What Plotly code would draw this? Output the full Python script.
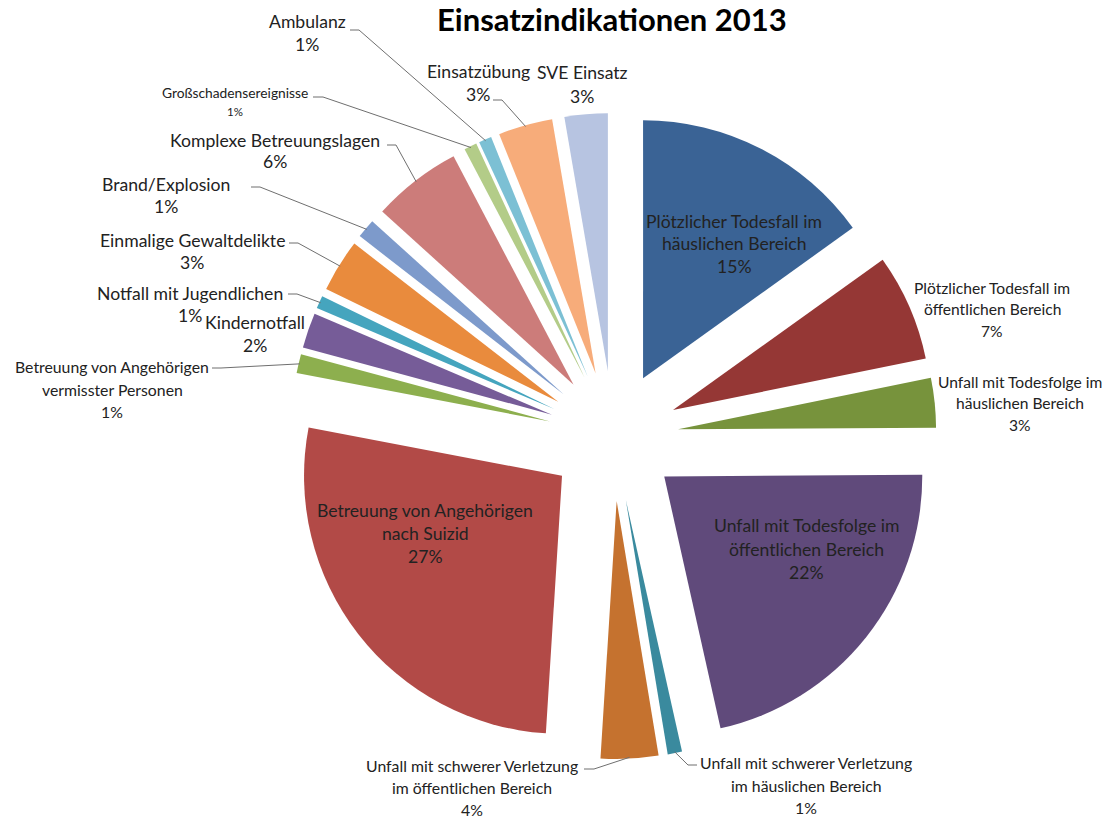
import math
import plotly.graph_objects as go

W, H = 1105, 818

# ---------------- data ----------------
categories = [
    "Plötzlicher Todesfall im häuslichen Bereich",
    "Plötzlicher Todesfall im öffentlichen Bereich",
    "Unfall mit Todesfolge im häuslichen Bereich",
    "Unfall mit Todesfolge im öffentlichen Bereich",
    "Unfall mit schwerer Verletzung im häuslichen Bereich",
    "Unfall mit schwerer Verletzung im öffentlichen Bereich",
    "Betreuung von Angehörigen nach Suizid",
    "Betreuung von Angehörigen vermisster Personen",
    "Kindernotfall",
    "Notfall mit Jugendlichen",
    "Einmalige Gewaltdelikte",
    "Brand/Explosion",
    "Komplexe Betreuungslagen",
    "Großschadensereignisse",
    "Ambulanz",
    "Einsatzübung",
    "SVE Einsatz",
]
values = [15.1, 6.7, 3.1, 21.6, 0.9, 3.6, 27.0, 1.2, 2.2, 0.8, 3.3, 1.2, 5.6, 0.8, 0.8, 3.4, 2.7]

# how each category label is broken into lines
label_lines = [
    ["Plötzlicher Todesfall im", "häuslichen Bereich"],
    ["Plötzlicher Todesfall im", "öffentlichen Bereich"],
    ["Unfall mit Todesfolge im", "häuslichen Bereich"],
    ["Unfall mit Todesfolge im", "öffentlichen Bereich"],
    ["Unfall mit schwerer Verletzung", "im häuslichen Bereich"],
    ["Unfall mit schwerer Verletzung", "im öffentlichen Bereich"],
    ["Betreuung von Angehörigen", "nach Suizid"],
    ["Betreuung von Angehörigen", "vermisster Personen"],
    ["Kindernotfall"],
    ["Notfall mit Jugendlichen"],
    ["Einmalige Gewaltdelikte"],
    ["Brand/Explosion"],
    ["Komplexe Betreuungslagen"],
    ["Großschadensereignisse"],
    ["Ambulanz"],
    ["Einsatzübung"],
    ["SVE Einsatz"],
]

colors = [
    "#3A6395", "#953735", "#77933C", "#604A7B", "#3A8A9E", "#C5722F",
    "#B24A47", "#8DAF4E", "#765C98", "#45A5BE", "#E98B3D", "#7D9ACB",
    "#CC7C7A", "#B3CC88", "#7CC0D4", "#F7AC7A", "#B7C4E1",
]

TITLE = "Einsatzindikationen 2013"

# ---------------- layout parameters (pixels) ----------------
CX, CY = 613.4, 436.0      # pie centre
R = 258.0                  # radius
PULL = 65.0 / 258.0        # explode distance as fraction of radius
FONT = "Lato"
TXT = "#222222"
LINE_COL = "#6f6f6f"

# label block centre (px), font size, line spacing
label_style = [
    (734, 244, 17.6, 22.5),
    (992, 309, 15.6, 21.5),
    (1020, 403, 15.6, 21.5),
    (806, 549, 17.6, 23.5),
    (806, 785, 15.8, 22.5),
    (472, 787, 15.8, 22.0),
    (425, 533, 17.6, 23.0),
    (112, 389, 15.8, 22.5),
    (255, 333.5, 17.6, 23.0),
    (190, 304, 17.6, 22.0),
    (192, 251, 17.6, 22.0),
    (166, 196, 17.6, 22.0),
    (275, 151, 17.6, 22.0),
    (235, 102, 13.8, 19.0),
    (307, 33, 17.6, 23.0),
    (478, 83.5, 17.6, 23.0),
    (582, 84.5, 17.6, 24.0),
]

# leader lines: (start px, elbow px) on the text side; None = no leader
leaders = [
    None, None, None, None,
    ((697, 765), (688, 765)),
    ((584, 769), (594, 769)),
    None,
    ((212, 368), (221, 368)),
    None,
    ((288, 294), (297, 294)),
    ((289, 243), (298, 243)),
    ((251, 187), (260, 187)),
    ((387, 145), (396, 145)),
    ((313, 97), (323, 97)),
    ((350, 30), (359, 30)),
    ((493, 100), (502, 100)),
    None,
]

# ---------------- figure ----------------
half = R * (1 + PULL)
dom_x = [(CX - half) / W, (CX + half) / W]
dom_y = [1 - (CY + half) / H, 1 - (CY - half) / H]

fig = go.Figure(go.Pie(
    labels=categories, values=values, sort=False, direction="clockwise", rotation=0,
    pull=[PULL] * len(values),
    marker=dict(colors=colors, line=dict(width=0)),
    textinfo="none", hoverinfo="label+percent", showlegend=False,
    domain=dict(x=dom_x, y=dom_y),
))

def px2paper(x, y):
    return x / W, 1 - y / H

total = sum(values)
annotations = []
shapes = []
cum = 0.0
for i, v in enumerate(values):
    frac_mid = (cum + v / 2) / total
    cum += v
    pct = f"{v / total * 100:.0f}%"
    lines = label_lines[i] + [pct]
    cx, cy, fs, sp = label_style[i]
    n = len(lines)
    for k, t in enumerate(lines):
        size = fs
        if i == 13 and k == n - 1:
            size = 11.5
        ly = cy + (k - (n - 1) / 2) * sp
        x, y = px2paper(cx, ly)
        annotations.append(dict(
            x=x, y=y, xref="paper", yref="paper", text=t, showarrow=False,
            xanchor="center", yanchor="middle",
            font=dict(family=FONT, size=size, color=TXT),
        ))
    if leaders[i] is not None:
        ang = 2 * math.pi * frac_mid
        L = R * PULL + R * 0.995
        ex = CX + L * math.sin(ang)
        ey = CY - L * math.cos(ang)
        (sx, sy), (bx, by) = leaders[i]
        p0 = px2paper(sx, sy)
        p1 = px2paper(bx, by)
        p2 = px2paper(ex, ey)
        shapes.append(dict(
            type="path", xref="paper", yref="paper",
            path=f"M {p0[0]},{p0[1]} L {p1[0]},{p1[1]} L {p2[0]},{p2[1]}",
            line=dict(color=LINE_COL, width=1),
        ))

tx, ty = px2paper(612, 19)
annotations.append(dict(
    x=tx, y=ty, xref="paper", yref="paper", text=f"<b>{TITLE}</b>", showarrow=False,
    xanchor="center", yanchor="middle",
    font=dict(family=FONT, size=31, color="#000000"),
))

fig.update_layout(
    width=W, height=H,
    margin=dict(l=0, r=0, t=0, b=0),
    paper_bgcolor="white", plot_bgcolor="white",
    annotations=annotations, shapes=shapes,
)

fig.write_html("out.html", config={"displayModeBar": False},
               post_script="document.body.style.margin='0';document.body.style.overflow='hidden';")
